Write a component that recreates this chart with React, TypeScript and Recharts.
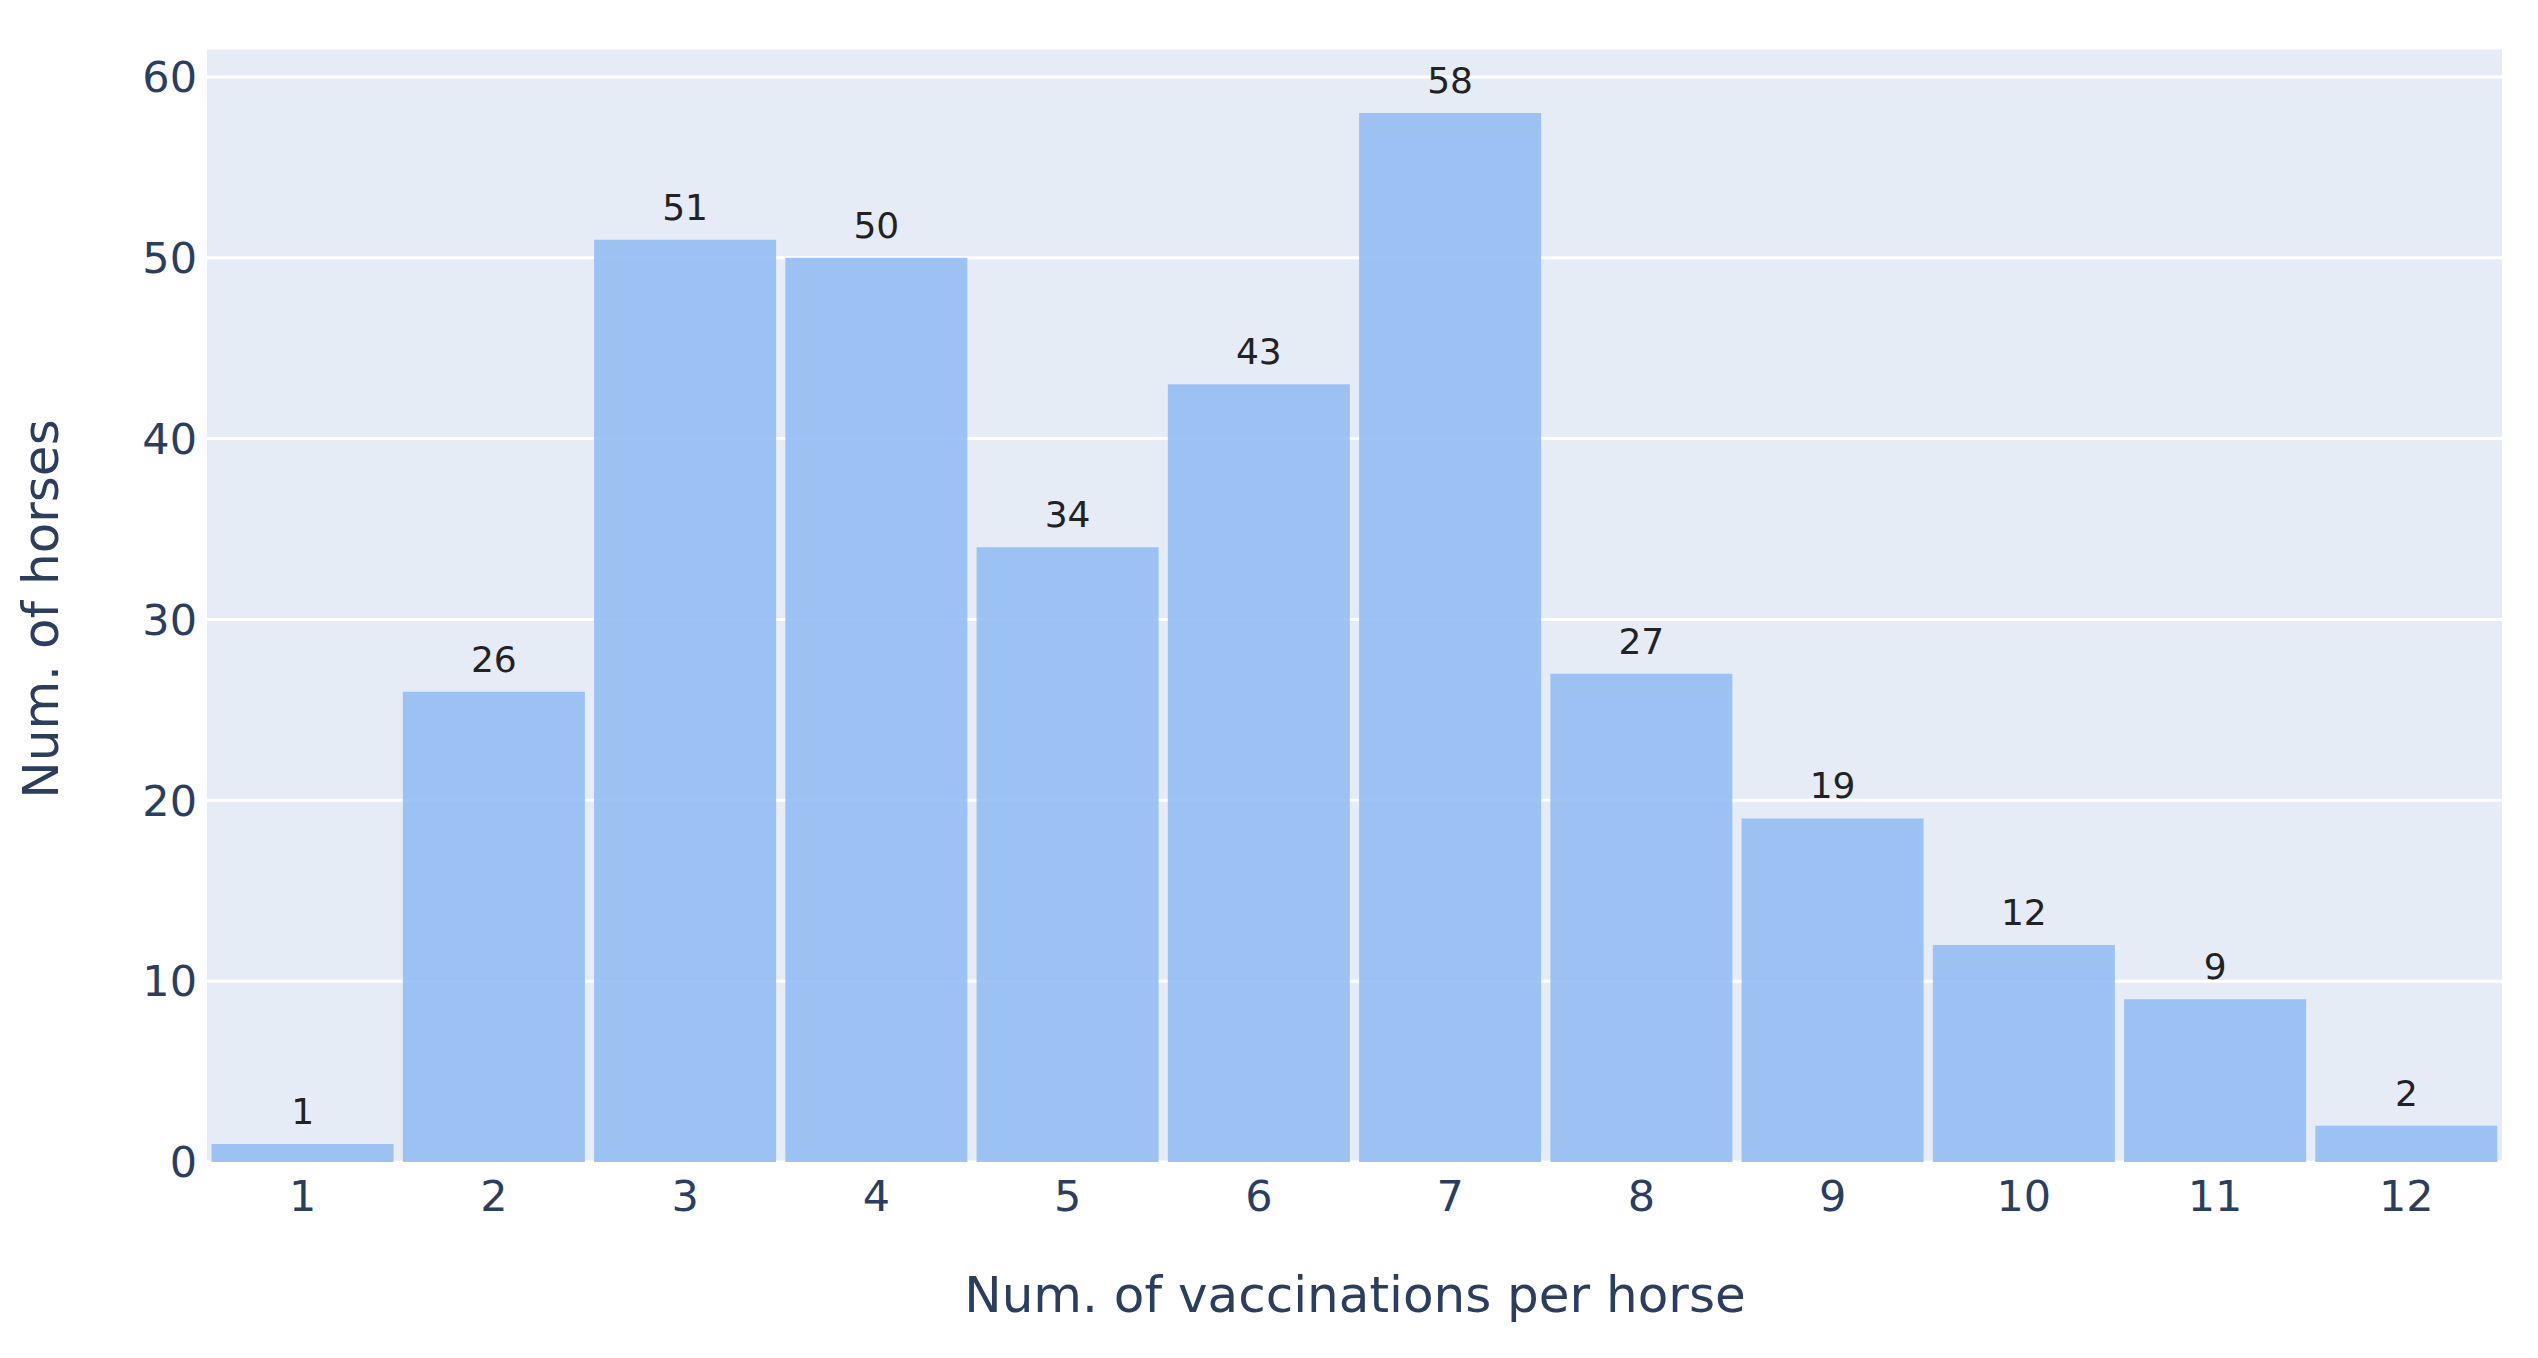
import { Bar, BarChart, CartesianGrid, Label, LabelList, XAxis, YAxis } from "recharts";

// counts
const vaccinations = ["1", "2", "3", "4", "5", "6", "7", "8", "9", "10", "11", "12"];
const horses = [1, 26, 51, 50, 34, 43, 58, 27, 19, 12, 9, 2];
const yTicks = [0, 10, 20, 30, 40, 50, 60];

const FONT = "'DejaVu Sans', Verdana, sans-serif";
const INK = "#2a3f5f";

const data = vaccinations.map((v, i) => ({ vaccinations: v, horses: horses[i] }));

export default function App() {
  return (
    <div style={{ position: "absolute", left: 0, top: 0, background: "#fff" }}>
      <BarChart
        width={2538}
        height={1358}
        data={data}
        margin={{ top: 48, right: 36, left: 0, bottom: 0 }}
        barCategoryGap="2.4%"
      >
        <CartesianGrid fill="#E5ECF6" stroke="#ffffff" strokeWidth={3} vertical={false} />
        <XAxis
          dataKey="vaccinations"
          height={196}
          axisLine={false}
          tickLine={false}
          tickSize={0}
          tickMargin={18}
          tick={{ fill: INK, fontSize: 43, fontFamily: FONT }}
        >
          <Label
            content={() => (
              <text x={1355} y={1312} textAnchor="middle" fill={INK} fontSize={50} fontFamily={FONT}>
                Num. of vaccinations per horse
              </text>
            )}
          />
        </XAxis>
        <YAxis
          width={207}
          domain={[0, 61.6]}
          ticks={yTicks}
          axisLine={false}
          tickLine={false}
          tickSize={0}
          tickMargin={10}
          tick={{ fill: INK, fontSize: 43, fontFamily: FONT }}
        >
          <Label
            content={() => (
              <text
                x={58}
                y={609}
                transform="rotate(-90, 58, 609)"
                textAnchor="middle"
                fill={INK}
                fontSize={50}
                fontFamily={FONT}
              >
                Num. of horses
              </text>
            )}
          />
        </YAxis>
        <Bar dataKey="horses" fill="#93bdf3" fillOpacity={0.9} isAnimationActive={false}>
          <LabelList
            dataKey="horses"
            position="top"
            offset={20}
            fill="#222"
            fontSize={36}
            fontFamily={FONT}
          />
        </Bar>
      </BarChart>
    </div>
  );
}
